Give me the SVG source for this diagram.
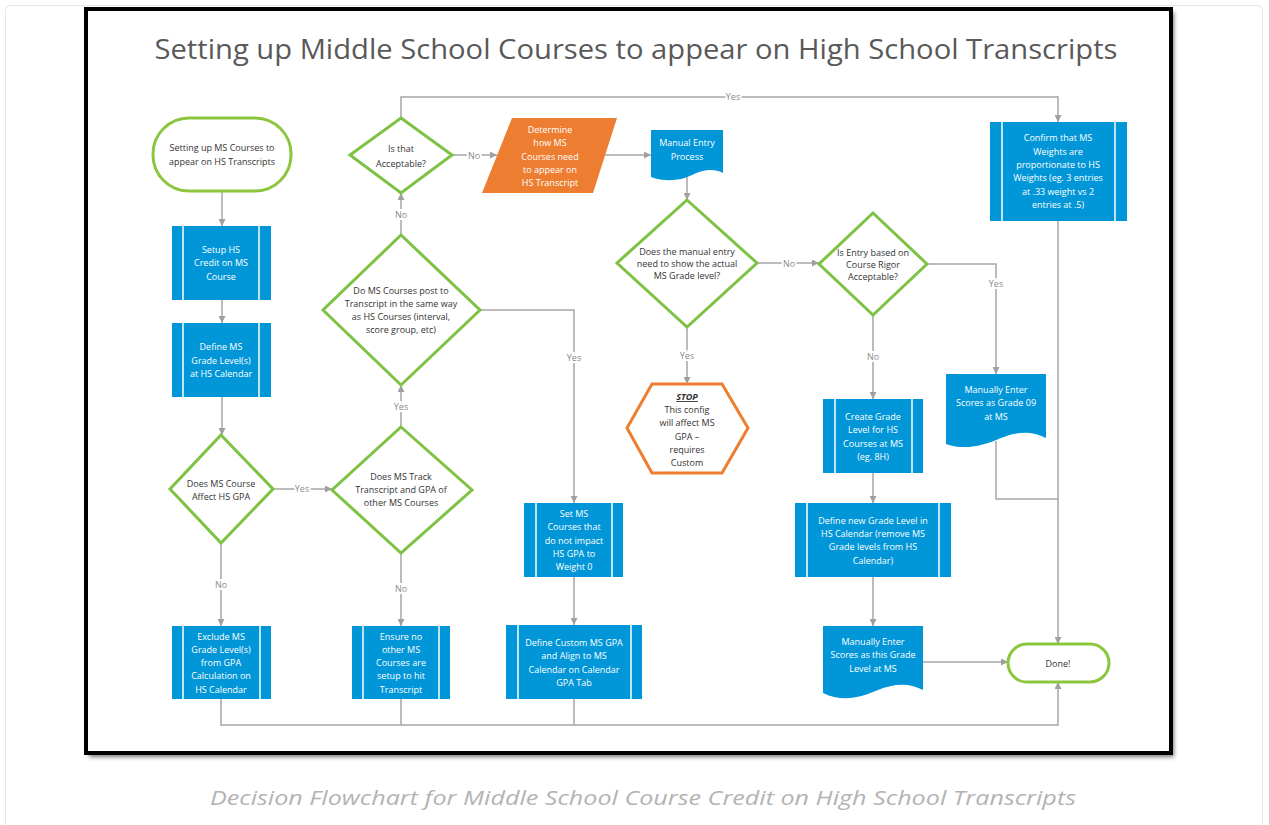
<svg xmlns="http://www.w3.org/2000/svg" width="1269" height="825" viewBox="0 0 1269 825">
<defs>
<marker id="ah" viewBox="0 0 10 10" refX="10" refY="5" markerWidth="7" markerHeight="7" markerUnits="userSpaceOnUse" orient="auto"><path d="M0,0 L10,5 L0,10 Z" fill="#a0a0a0"/></marker>
<filter id="sh" x="-5%" y="-5%" width="110%" height="110%"><feGaussianBlur stdDeviation="2"/></filter>
</defs>
<style>
.proc{fill:#0096d8}
.sep{stroke:#fff;stroke-width:1.5}
.dec{fill:#fff;stroke:#7dc242;stroke-width:3}
.term{fill:#fff;stroke:#8cc63f;stroke-width:3}
.conn{fill:none;stroke:#a6a6a6;stroke-width:1.5}
.arr{marker-end:url(#ah)}
text{font-family:"Open Sans","DejaVu Sans",sans-serif;text-anchor:middle}
.wt{font-size:9px;fill:#fff}
.dt{font-size:9px;fill:#333}
.lbl{font-size:9px;fill:#8a8a8a;stroke:#fff;stroke-width:4px;paint-order:stroke}
</style>
<rect x="0" y="0" width="1269" height="825" fill="#fff"/>
<rect x="5.5" y="5.5" width="1257" height="830" rx="5" fill="#fff" stroke="#e6e6e6"/>
<rect x="89" y="12" width="1085" height="745" fill="#777" filter="url(#sh)"/>
<rect x="86" y="9" width="1085" height="744" fill="#fff" stroke="#000" stroke-width="4"/>
<text x="636" y="59" font-size="27" fill="#595959" textLength="963" lengthAdjust="spacingAndGlyphs">Setting up Middle School Courses to appear on High School Transcripts</text>
<text x="643" y="805" font-size="20" font-style="italic" fill="#b3b3b3" textLength="866" lengthAdjust="spacingAndGlyphs">Decision Flowchart for Middle School Course Credit on High School Transcripts</text>

<g id="connectors">
<path class="conn arr" d="M222,191 V226"/>
<path class="conn arr" d="M222,300 V323"/>
<path class="conn arr" d="M222,397 V435"/>
<path class="conn arr" d="M273,489 H332"/>
<path class="conn arr" d="M221,543 V626"/>
<path class="conn arr" d="M401,553 V626"/>
<path class="conn arr" d="M401,427 V385"/>
<path class="conn arr" d="M480,310 H574 V503"/>
<path class="conn arr" d="M574,577 V625"/>
<path class="conn arr" d="M401,235 V193"/>
<path class="conn arr" d="M401,118 V97 H1058 V122"/>
<path class="conn arr" d="M452,155 H497"/>
<path class="conn arr" d="M605,155 H651"/>
<path class="conn arr" d="M687,174 V200"/>
<path class="conn arr" d="M757,263 H819"/>
<path class="conn arr" d="M687,327 V384"/>
<path class="conn arr" d="M927,264 H996 V374"/>
<path class="conn arr" d="M873,315 V399"/>
<path class="conn arr" d="M873,473 V503"/>
<path class="conn arr" d="M873,577 V626"/>
<path class="conn arr" d="M923,662 H1008"/>
<path class="conn arr" d="M1058,221 V644"/>
<path class="conn" d="M996,441 V499 H1058"/>
<path class="conn arr" d="M221,699 V725 H1058 V682"/>
<path class="conn" d="M401,699 V725"/>
<path class="conn" d="M574,699 V725"/>
<text class="lbl" x="302" y="492">Yes</text>
<text class="lbl" x="221" y="588">No</text>
<text class="lbl" x="401" y="592">No</text>
<text class="lbl" x="401" y="410">Yes</text>
<text class="lbl" x="574" y="361">Yes</text>
<text class="lbl" x="401" y="218">No</text>
<text class="lbl" x="733" y="100">Yes</text>
<text class="lbl" x="474" y="159">No</text>
<text class="lbl" x="789" y="267">No</text>
<text class="lbl" x="687" y="359">Yes</text>
<text class="lbl" x="996" y="287">Yes</text>
<text class="lbl" x="873" y="360">No</text>
</g>

<g id="start">
<rect class="term" x="153" y="118" width="138" height="73" rx="36"/>
<text class="dt" x="222" y="151">Setting up MS Courses to</text>
<text class="dt" x="222" y="165">appear on HS Transcripts</text>
</g>

<g id="setup-credit">
<rect class="proc" x="172" y="226" width="99" height="74"/>
<line class="sep" x1="183" y1="226" x2="183" y2="300"/><line class="sep" x1="259" y1="226" x2="259" y2="300"/>
<text class="wt" x="221" y="253">Setup HS</text>
<text class="wt" x="221" y="266">Credit on MS</text>
<text class="wt" x="221" y="280">Course</text>
</g>

<g id="define-ms-grade">
<rect class="proc" x="172" y="323" width="99" height="74"/>
<line class="sep" x1="183" y1="323" x2="183" y2="397"/><line class="sep" x1="259" y1="323" x2="259" y2="397"/>
<text class="wt" x="221" y="350">Define MS</text>
<text class="wt" x="221" y="364">Grade Level(s)</text>
<text class="wt" x="221" y="377">at HS Calendar</text>
</g>

<g id="affect-gpa">
<polygon class="dec" points="221,435 273,489 221,543 170,489"/>
<text class="dt" x="221" y="487">Does MS Course</text>
<text class="dt" x="221" y="500">Affect HS GPA</text>
</g>

<g id="track-transcript">
<polygon class="dec" points="401,427 472,490 401,553 332,490"/>
<text class="dt" x="401" y="480">Does MS Track</text>
<text class="dt" x="401" y="493">Transcript and GPA of</text>
<text class="dt" x="401" y="506">other MS Courses</text>
</g>

<g id="exclude">
<rect class="proc" x="172" y="626" width="99" height="73"/>
<line class="sep" x1="183" y1="626" x2="183" y2="699"/><line class="sep" x1="260" y1="626" x2="260" y2="699"/>
<text class="wt" x="221" y="640">Exclude MS</text>
<text class="wt" x="221" y="653">Grade Level(s)</text>
<text class="wt" x="221" y="666">from GPA</text>
<text class="wt" x="221" y="679">Calculation on</text>
<text class="wt" x="221" y="693">HS Calendar</text>
</g>

<g id="ensure">
<rect class="proc" x="352" y="626" width="98" height="73"/>
<line class="sep" x1="363" y1="626" x2="363" y2="699"/><line class="sep" x1="439" y1="626" x2="439" y2="699"/>
<text class="wt" x="401" y="640">Ensure no</text>
<text class="wt" x="401" y="653">other MS</text>
<text class="wt" x="401" y="666">Courses are</text>
<text class="wt" x="401" y="679">setup to hit</text>
<text class="wt" x="401" y="693">Transcript</text>
</g>

<g id="post-same-way">
<polygon class="dec" points="401,235 480,310 401,385 323,310"/>
<text class="dt" x="401" y="294">Do MS Courses post to</text>
<text class="dt" x="401" y="307">Transcript in the same way</text>
<text class="dt" x="401" y="320">as HS Courses (interval,</text>
<text class="dt" x="401" y="333">score group, etc)</text>
</g>

<g id="set-weight">
<rect class="proc" x="524" y="503" width="99" height="74"/>
<line class="sep" x1="536" y1="503" x2="536" y2="577"/><line class="sep" x1="612" y1="503" x2="612" y2="577"/>
<text class="wt" x="574" y="517">Set MS</text>
<text class="wt" x="574" y="530">Courses that</text>
<text class="wt" x="574" y="544">do not impact</text>
<text class="wt" x="574" y="557">HS GPA to</text>
<text class="wt" x="574" y="570">Weight 0</text>
</g>

<g id="define-custom-gpa">
<rect class="proc" x="506" y="625" width="136" height="74"/>
<line class="sep" x1="518" y1="625" x2="518" y2="699"/><line class="sep" x1="631" y1="625" x2="631" y2="699"/>
<text class="wt" x="574" y="646">Define Custom MS GPA</text>
<text class="wt" x="574" y="659">and Align to MS</text>
<text class="wt" x="574" y="673">Calendar on Calendar</text>
<text class="wt" x="574" y="686">GPA Tab</text>
</g>

<g id="acceptable">
<polygon class="dec" points="401,118 452,155 401,193 350,155"/>
<text class="dt" x="401" y="152">Is that</text>
<text class="dt" x="401" y="167">Acceptable?</text>
</g>

<g id="determine">
<polygon points="512,118 617,118 593,193 482,193" fill="#ed7d31"/>
<text class="wt" x="550" y="133">Determine</text>
<text class="wt" x="550" y="146">how MS</text>
<text class="wt" x="550" y="160">Courses need</text>
<text class="wt" x="550" y="173">to appear on</text>
<text class="wt" x="550" y="186">HS Transcript</text>
</g>

<g id="manual-entry">
<path class="proc" d="M651,130 H723 V173 C713,168 703,170 692,175 C680,181 665,182 651,177 Z"/>
<text class="wt" x="687" y="146">Manual Entry</text>
<text class="wt" x="687" y="160">Process</text>
</g>

<g id="show-grade">
<polygon class="dec" points="687,200 757,263 687,327 617,263"/>
<text class="dt" x="687" y="255">Does the manual entry</text>
<text class="dt" x="687" y="267">need to show the actual</text>
<text class="dt" x="687" y="279">MS Grade level?</text>
</g>

<g id="stop">
<polygon points="652,384 722,384 748,428 722,473 652,473 627,428" fill="#fff" stroke="#ed7d31" stroke-width="3"/>
<text class="dt" x="687" y="400" font-weight="bold" font-style="italic" text-decoration="underline">STOP</text>
<text class="dt" x="687" y="413">This config</text>
<text class="dt" x="687" y="426">will affect MS</text>
<text class="dt" x="687" y="440">GPA –</text>
<text class="dt" x="687" y="453">requires</text>
<text class="dt" x="687" y="466">Custom</text>
</g>

<g id="course-rigor">
<polygon class="dec" points="873,213 927,264 873,315 819,264"/>
<text class="dt" x="873" y="256" font-size="8.5">Is Entry based on</text>
<text class="dt" x="873" y="268" font-size="8.5">Course Rigor</text>
<text class="dt" x="873" y="280" font-size="8.5">Acceptable?</text>
</g>

<g id="create-grade">
<rect class="proc" x="823" y="399" width="100" height="74"/>
<line class="sep" x1="835" y1="399" x2="835" y2="473"/><line class="sep" x1="912" y1="399" x2="912" y2="473"/>
<text class="wt" x="873" y="420">Create Grade</text>
<text class="wt" x="873" y="433">Level for HS</text>
<text class="wt" x="873" y="447">Courses at MS</text>
<text class="wt" x="873" y="460">(eg. 8H)</text>
</g>

<g id="define-new-grade">
<rect class="proc" x="795" y="503" width="156" height="74"/>
<line class="sep" x1="807" y1="503" x2="807" y2="577"/><line class="sep" x1="939" y1="503" x2="939" y2="577"/>
<text class="wt" x="873" y="524">Define new Grade Level in</text>
<text class="wt" x="873" y="537">HS Calendar (remove MS</text>
<text class="wt" x="873" y="550">Grade levels from HS</text>
<text class="wt" x="873" y="564">Calendar)</text>
</g>

<g id="enter-this-grade">
<path class="proc" d="M823,626 H923 V690 C908,682 893,684 878,690 C862,697 843,703 823,693 Z"/>
<text class="wt" x="873" y="645">Manually Enter</text>
<text class="wt" x="873" y="658">Scores as this Grade</text>
<text class="wt" x="873" y="672">Level at MS</text>
</g>

<g id="enter-grade-09">
<path class="proc" d="M946,374 H1046 V438 C1031,430 1016,432 1001,438 C985,445 966,451 946,444 Z"/>
<text class="wt" x="996" y="393">Manually Enter</text>
<text class="wt" x="996" y="406">Scores as Grade 09</text>
<text class="wt" x="996" y="420">at MS</text>
</g>

<g id="confirm-weights">
<rect class="proc" x="990" y="122" width="137" height="99"/>
<line class="sep" x1="1002" y1="122" x2="1002" y2="221"/><line class="sep" x1="1115" y1="122" x2="1115" y2="221"/>
<text class="wt" x="1058" y="141">Confirm that MS</text>
<text class="wt" x="1058" y="155">Weights are</text>
<text class="wt" x="1058" y="168">proportionate to HS</text>
<text class="wt" x="1058" y="181">Weights (eg. 3 entries</text>
<text class="wt" x="1058" y="195">at .33 weight vs 2</text>
<text class="wt" x="1058" y="208">entries at .5)</text>
</g>

<g id="done">
<rect class="term" x="1008" y="644" width="101" height="38" rx="19"/>
<text class="dt" x="1058" y="667">Done!</text>
</g>
</svg>
